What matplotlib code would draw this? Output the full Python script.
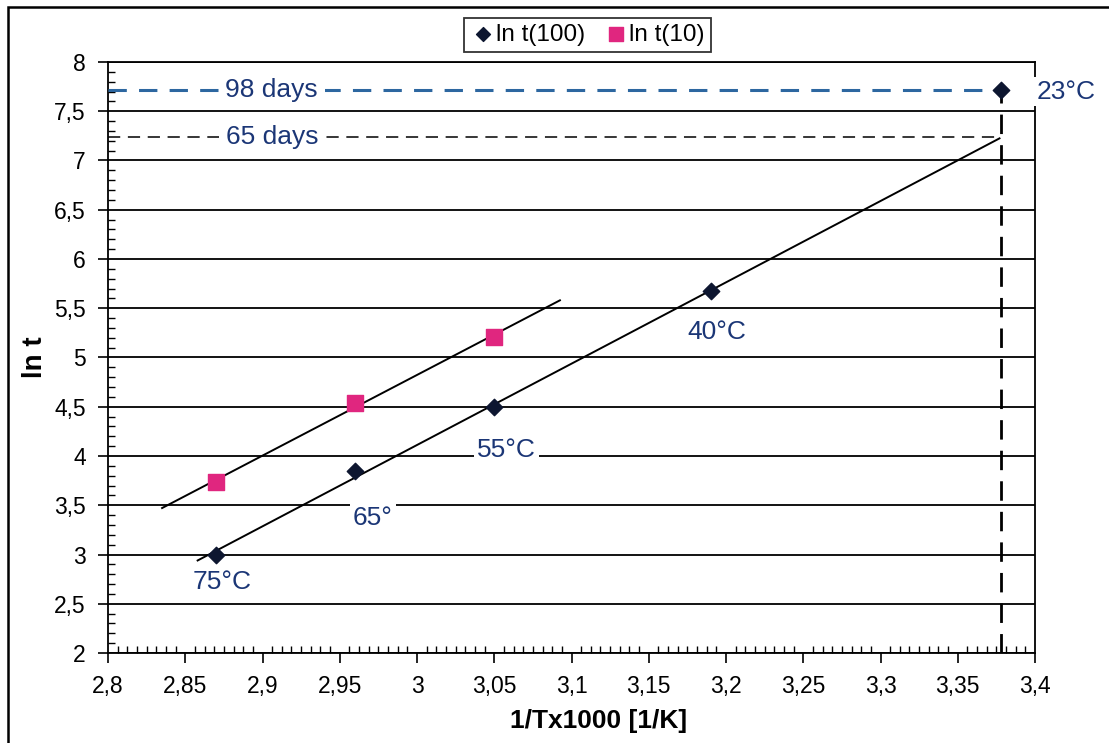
import matplotlib.pyplot as plt
import numpy as np
from matplotlib.ticker import MultipleLocator, AutoMinorLocator, FuncFormatter

plt.rcParams['font.family'] = ['Liberation Sans', 'DejaVu Sans']

# data
inv_t = [2.87, 2.96, 3.05, 3.19, 3.378]       # 1/T x 1000 [1/K]
ln_t100 = [3.0, 3.85, 4.50, 5.675, 7.72]
inv_t10 = [2.87, 2.96, 3.05]
ln_t10 = [3.736, 4.54, 5.21]
temp_labels = ['75°C', '65°', '55°C', '40°C', '23°C']
label_pos = [(2.874, 2.72), (2.9715, 3.37), (3.058, 4.06), (3.194, 5.26), (3.42, 7.70)]

fit100_range = [2.858, 3.377]
fit10_range = [2.835, 3.0925]
days98 = 7.72
days65 = 7.235

navy = '#1b3676'
blue = '#2d67a0'
pink = '#e0267f'

fig = plt.figure(figsize=(11.09, 7.43), dpi=100)
ax = fig.add_axes([0.0974, 0.1211, 0.8359, 0.7955])

# fitted lines (first four points for t(100), all for t(10))
k1, b1 = np.polyfit(inv_t[:4], ln_t100[:4], 1)
xx = np.array(fit100_range)
ax.plot(xx, k1 * xx + b1, color='black', lw=1.4, zorder=4)
k2, b2 = np.polyfit(inv_t10, ln_t10, 1)
xx = np.array(fit10_range)
ax.plot(xx, k2 * xx + b2, color='black', lw=1.4, zorder=4)

# reference lines
ax.plot([2.8, inv_t[-1]], [days98, days98], color=blue, lw=2.2, ls=(0, (6, 4)), zorder=3)
ax.plot([2.8, inv_t[-1]], [days65, days65], color='black', lw=1.1, ls=(0, (8, 5)), zorder=3)
ax.plot([inv_t[-1], inv_t[-1]], [2, days98], color='black', lw=2, ls=(0, (7, 4)), zorder=3)

ax.scatter(inv_t, ln_t100, marker='D', s=70, color='#0d1630', zorder=6, label='ln t(100)')
ax.scatter(inv_t10, ln_t10, marker='s', s=140, color=pink, zorder=6, label='ln t(10)')

for txt, (px, py) in zip(temp_labels, label_pos):
    ax.text(px, py, txt, color=navy, fontsize=19, ha='center', va='center',
            clip_on=False, zorder=5,
            bbox=dict(facecolor='white', edgecolor='none', pad=2))
ax.text(2.906, days98, '98 days', color=navy, fontsize=19, ha='center', va='center',
        zorder=5, bbox=dict(facecolor='white', edgecolor='none', pad=5))
ax.text(2.906, days65, '65 days', color=navy, fontsize=19, ha='center', va='center',
        zorder=5, bbox=dict(facecolor='white', edgecolor='none', pad=5))

ax.set_xlim(2.8, 3.4)
ax.set_ylim(2, 8)
ax.xaxis.set_major_locator(MultipleLocator(0.05))
ax.xaxis.set_minor_locator(AutoMinorLocator(8))
ax.yaxis.set_major_locator(MultipleLocator(0.5))
ax.yaxis.set_minor_locator(AutoMinorLocator(5))
fmt = FuncFormatter(lambda v, p: ('%g' % round(v, 3)).replace('.', ','))
ax.xaxis.set_major_formatter(fmt)
ax.yaxis.set_major_formatter(fmt)
ax.tick_params(which='major', direction='out', length=7, width=1.2, labelsize=16.5, pad=9)
ax.tick_params(which='minor', direction='in', length=5, width=1)
ax.grid(axis='y', which='major', color='black', lw=1.3, zorder=1)
ax.set_axisbelow(True)
for s in ax.spines.values():
    s.set_linewidth(1.3)

ax.set_xlabel('1/Tx1000 [1/K]', fontsize=19, fontweight='bold', labelpad=12)
ax.xaxis.set_label_coords(0.529, -0.095)
ax.set_ylabel('ln t', fontsize=20, fontweight='bold', labelpad=4)

leg = ax.legend(loc='center', bbox_to_anchor=(0.517, 1.046), ncol=2, fontsize=17.5,
                frameon=True, fancybox=False, edgecolor='black', handletextpad=0.0,
                columnspacing=0.7, borderpad=0.25, handlelength=1.1, scatterpoints=1)
leg.get_frame().set_linewidth(1.3)
leg.legend_handles[0].set_sizes([50])
leg.legend_handles[1].set_sizes([110])

# outer border of the figure
fig.patches.append(plt.Rectangle((0.007, -0.01), 1.1, 1.0, transform=fig.transFigure,
                                 fill=False, edgecolor='black', lw=1.8))

fig.savefig('out.png', dpi=100)
